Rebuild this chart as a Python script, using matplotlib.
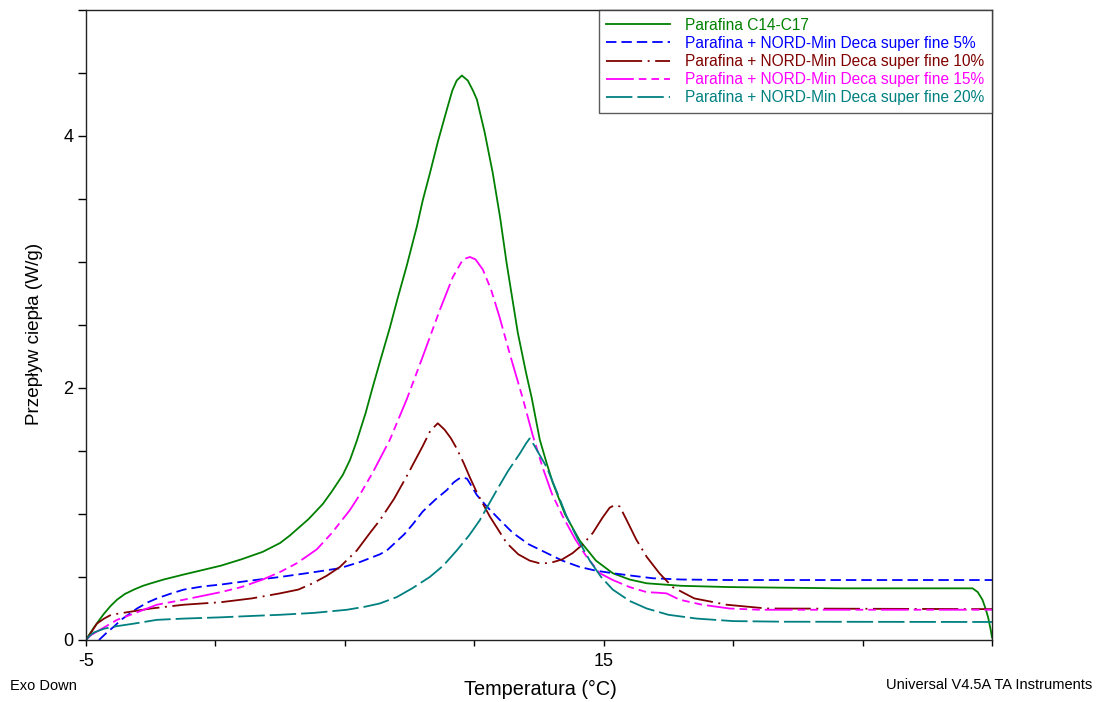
import matplotlib
matplotlib.use("Agg")
import matplotlib.pyplot as plt

plt.rcParams['font.family'] = ['Liberation Sans', 'DejaVu Sans']
plt.rcParams['lines.scale_dashes'] = False

# ---------------- data ----------------
labels = [
    "Parafina C14-C17",
    "Parafina + NORD-Min Deca super fine 5%",
    "Parafina + NORD-Min Deca super fine 10%",
    "Parafina + NORD-Min Deca super fine 15%",
    "Parafina + NORD-Min Deca super fine 20%",
]

x_c0 = [-5, -4.85, -4.69, -4.5, -4.30, -4.05, -3.80, -3.5, -3.15, -2.8, -2.49, -2.0, -1.22,
        -0.5, 0.21, 1.0, 1.83, 2.5, 2.88, 3.6, 4.15, 4.5, 4.92, 5.2, 5.46, 5.8, 6.08, 6.4,
        6.74, 7.05, 7.39, 7.78, 8.01, 8.28, 8.6, 8.94, 9.15, 9.32, 9.52, 9.75, 9.95, 10.10,
        10.4, 10.71, 11.0, 11.25, 11.68, 12.0, 12.22, 12.53, 12.8, 13.03, 13.5, 14.07, 14.7,
        15.35, 16.0, 16.66, 18.0, 19.86, 24.2, 29.25, 29.45, 29.63, 29.75, 29.85, 29.95, 30.0]
y_c0 = [0, 0.05, 0.10, 0.155, 0.21, 0.27, 0.32, 0.365, 0.40, 0.43, 0.45, 0.48, 0.52,
        0.555, 0.59, 0.64, 0.70, 0.77, 0.83, 0.96, 1.08, 1.18, 1.31, 1.43, 1.58, 1.80, 2.01,
        2.24, 2.48, 2.72, 2.97, 3.28, 3.49, 3.70, 3.96, 4.21, 4.36, 4.44, 4.48, 4.44, 4.36,
        4.29, 4.03, 3.71, 3.35, 2.99, 2.44, 2.12, 1.92, 1.59, 1.40, 1.25, 1.00, 0.79, 0.63,
        0.53, 0.48, 0.45, 0.43, 0.42, 0.41, 0.41, 0.38, 0.32, 0.25, 0.18, 0.08, 0.02]

x_c5 = [-4.5, -4.19, -3.9, -3.65, -3.3, -3.03, -2.6, -2.26, -1.7, -1.22, -0.5, 0.21, 1.3,
        2.49, 3.7, 4.81, 5.6, 6.35, 6.62, 7.3, 7.63, 8.01, 8.5, 8.94, 9.2, 9.4, 9.56, 9.72,
        9.9, 10.10, 10.48, 11.0, 11.49, 12.1, 12.80, 13.4, 14.07, 14.7, 15.35, 16.1, 16.9,
        18.0, 19.86, 30.0]
y_c5 = [0, 0.06, 0.11, 0.16, 0.21, 0.25, 0.30, 0.33, 0.37, 0.40, 0.425, 0.44, 0.47,
        0.50, 0.535, 0.57, 0.62, 0.68, 0.71, 0.84, 0.92, 1.02, 1.115, 1.19, 1.25, 1.28, 1.29,
        1.28, 1.22, 1.15, 1.06, 0.95, 0.85, 0.76, 0.69, 0.63, 0.58, 0.55, 0.53, 0.51, 0.49,
        0.48, 0.476, 0.476]

x_c10 = [-5, -4.8, -4.58, -4.3, -4.03, -3.42, -2.49, -1.22, 0.21, 1.4, 2.49, 3.2, 3.76, 4.3,
         4.81, 5.46, 5.97, 6.35, 6.9, 7.39, 8.01, 8.3, 8.59, 8.85, 9.1, 9.32, 9.6, 9.83, 10.1,
         10.60, 11.25, 11.7, 12.14, 12.5, 12.91, 13.4, 13.80, 14.2, 14.58, 14.95, 15.23, 15.42,
         15.62, 15.89, 16.25, 16.66, 17.15, 17.66, 18.5, 19.75, 21.3, 30.0]
y_c10 = [0, 0.06, 0.13, 0.17, 0.20, 0.22, 0.25, 0.28, 0.30, 0.33, 0.37, 0.40, 0.45, 0.51,
         0.58, 0.71, 0.85, 0.95, 1.12, 1.30, 1.54, 1.66, 1.72, 1.67, 1.60, 1.52, 1.40, 1.29,
         1.17, 0.98, 0.77, 0.68, 0.63, 0.61, 0.61, 0.64, 0.69, 0.76, 0.85, 0.97, 1.05, 1.07,
         1.06, 0.95, 0.80, 0.66, 0.53, 0.42, 0.33, 0.28, 0.25, 0.245]

x_c15 = [-5, -4.8, -4.3, -3.8, -3.15, -2.26, -1.22, 0.21, 1.0, 1.83, 2.5, 3.15, 3.92, 4.5,
         5.19, 5.6, 6.08, 6.74, 7.39, 8.01, 8.67, 9.17, 9.56, 9.83, 10.05, 10.33,
         10.65, 10.98, 11.4, 11.87, 12.25, 12.64, 13.0, 13.42, 13.9, 14.34, 14.85, 15.35,
         16.0, 16.66, 17.1, 17.43, 17.93, 18.8, 19.86, 21.0, 30.0]
y_c15 = [0, 0.04, 0.10, 0.16, 0.21, 0.28, 0.32, 0.38, 0.42, 0.48, 0.54, 0.61, 0.72, 0.85,
         1.03, 1.16, 1.33, 1.59, 1.91, 2.25, 2.62, 2.88, 3.02, 3.04, 3.02, 2.94,
         2.78, 2.56, 2.25, 1.92, 1.63, 1.37, 1.16, 0.98, 0.80, 0.66, 0.53, 0.476,
         0.42, 0.38, 0.375, 0.37, 0.32, 0.28, 0.25, 0.24, 0.24]

x_c20 = [-5, -4.85, -4.69, -4.3, -3.8, -3.15, -2.26, -1.22, 0.21, 1.3, 2.49, 3.8, 5.08, 5.8,
         6.35, 7.0, 7.6, 8.28, 8.8, 9.32, 9.8, 10.21, 10.87, 11.3, 11.76, 12.0, 12.14, 12.3,
         12.80, 13.2, 13.57, 14.0, 14.46, 14.9, 15.35, 16.0, 16.66, 17.5, 18.59, 20.0, 22.0,
         30.0]
y_c20 = [0, 0.035, 0.06, 0.09, 0.11, 0.13, 0.16, 0.17, 0.18, 0.19, 0.20, 0.215, 0.24, 0.265,
         0.29, 0.34, 0.41, 0.50, 0.59, 0.71, 0.83, 0.95, 1.19, 1.34, 1.48, 1.56, 1.60, 1.55,
         1.37, 1.17, 0.98, 0.80, 0.63, 0.50, 0.40, 0.31, 0.25, 0.20, 0.17, 0.15, 0.145,
         0.143]

x_ticks = [-5, 0, 5, 10, 15, 20, 25, 30]
x_ticklabels = ["-5", "", "", "", "15", "", "", ""]
y_ticks = [0, 0.5, 1, 1.5, 2, 2.5, 3, 3.5, 4, 4.5, 5]
y_ticklabels = ["0", "", "", "", "2", "", "", "", "4", "", ""]

# ---------------- figure ----------------
W, H = 1102, 702
fig = plt.figure(figsize=(W / 100, H / 100), dpi=100)
ax = fig.add_axes([86 / W, 1 - 640 / H, (992 - 86) / W, (640 - 10) / H])

series = [
    (x_c0, y_c0, "#008000", "-"),
    (x_c5, y_c5, "#0000ff", (0, (7.5, 3.6))),
    (x_c10, y_c10, "#800000", (0, (26, 4, 1.4, 4))),
    (x_c15, y_c15, "#ff00ff", (0, (20, 3.6, 5.5, 3.6, 5.5, 3.6))),
    (x_c20, y_c20, "#008080", (0, (19, 3.6))),
]
for (xs, ys, col, ls), lab in zip(series, labels):
    ax.plot(xs, ys, color=col, linestyle=ls, linewidth=1.3, label=lab)

ax.set_xlim(-5, 30)
ax.set_ylim(0, 5)
ax.set_xticks(x_ticks)
ax.set_xticklabels(x_ticklabels)
ax.set_yticks(y_ticks)
ax.set_yticklabels(y_ticklabels)
ax.tick_params(axis='x', direction='out', length=4, width=1, labelsize=13, pad=5)
ax.tick_params(axis='y', direction='out', length=6, width=1, labelsize=13, pad=3)
for s in ax.spines.values():
    s.set_linewidth(1.0)
    s.set_color('#222222')

leg = ax.legend(loc='upper right', bbox_to_anchor=(1, 1), borderaxespad=0,
                fontsize=11.2, handlelength=4.1, handletextpad=0.95, labelspacing=0.2,
                borderpad=0.5, fancybox=False, frameon=True)
leg.get_frame().set_edgecolor('#333333')
leg.get_frame().set_linewidth(1.0)
for txt, (_, _, col, _) in zip(leg.get_texts(), series):
    txt.set_color(col)

fig.text(540 / W, 1 - 689 / H, "Temperatura (°C)", ha='center', va='center', fontsize=14.3)
fig.text(35 / W, 1 - 334 / H, "Przepływ ciepła (W/g)", ha='center', va='center',
         rotation=90, fontsize=13.6)
fig.text(10 / W, 1 - 686 / H, "Exo Down", ha='left', va='center', fontsize=10.5)
fig.text(1092 / W, 1 - 685 / H, "Universal V4.5A TA Instruments", ha='right',
         va='center', fontsize=10.5)

fig.savefig("out.png", dpi=100)
